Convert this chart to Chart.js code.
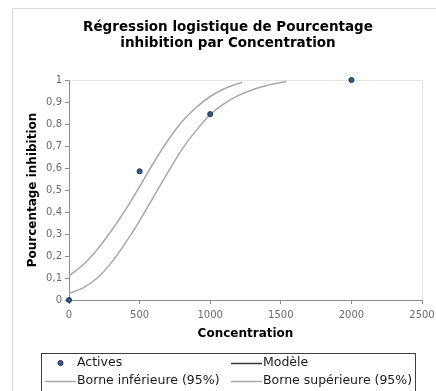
<!DOCTYPE html>
<html lang="fr">
<head>
<meta charset="utf-8">
<title>Régression logistique</title>
<script src="https://cdn.jsdelivr.net/npm/chart.js@4.4.1/dist/chart.umd.min.js"></script>
<style>
  html, body { margin: 0; padding: 0; background: #fff; }
  #wrap { width: 436px; height: 391px; position: relative; }
</style>
</head>
<body>
<div id="wrap"><canvas id="chart"></canvas></div>
<script>
const titleLines = ['Régression logistique de Pourcentage', 'inhibition par Concentration']
const xTitle = 'Concentration'
const yTitle = 'Pourcentage inhibition'
const xTicks = [0, 500, 1000, 1500, 2000, 2500]
const yTicks = [0, 0.1, 0.2, 0.3, 0.4, 0.5, 0.6, 0.7, 0.8, 0.9, 1]
const yTickLabels = ['0', '0,1', '0,2', '0,3', '0,4', '0,5', '0,6', '0,7', '0,8', '0,9', '1']

// observations
const activesX = [0, 500, 1000, 2000]
const activesY = [0, 0.585, 0.845, 1]

// fitted model (not plotted, legend entry only)
const modelX = []
const modelY = []

// 95% bounds
const lowerX = [0, 100, 200, 300, 400, 500, 600, 700, 800, 900, 1000, 1100, 1200, 1300, 1400, 1540]
const lowerY = [0.03, 0.055, 0.1, 0.17, 0.26, 0.36, 0.47, 0.58, 0.685, 0.77, 0.843, 0.893, 0.93, 0.956, 0.975, 0.993]
const upperX = [0, 100, 200, 300, 400, 500, 600, 700, 800, 900, 1000, 1100, 1225]
const upperY = [0.11, 0.16, 0.23, 0.315, 0.41, 0.515, 0.625, 0.725, 0.81, 0.875, 0.925, 0.96, 0.99]

const zip = (xs, ys) => xs.map((x, i) => ({ x, y: ys[i] }))

const FONT = 'DejaVu Sans'

const frame = {
  id: 'frame',
  beforeDraw(chart) {
    const { ctx, width, height } = chart
    ctx.save()
    ctx.fillStyle = '#fff'
    ctx.fillRect(0, 0, width, height)
    ctx.strokeStyle = '#d9d9d9'
    ctx.lineWidth = 1
    ctx.beginPath()
    ctx.moveTo(12.5, height)
    ctx.lineTo(12.5, 8.5)
    ctx.lineTo(width, 8.5)
    ctx.stroke()

    ctx.fillStyle = '#000'
    ctx.font = `bold 13.5px "${FONT}"`
    ctx.textAlign = 'center'
    ctx.textBaseline = 'middle'
    titleLines.forEach((t, i) => ctx.fillText(t, 228, 27 + i * 16))
    ctx.restore()
  },
  beforeDatasetsDraw(chart) {
    const { ctx, chartArea: a } = chart
    ctx.save()
    ctx.strokeStyle = '#e3e3e3'
    ctx.lineWidth = 1
    ctx.beginPath()
    ctx.moveTo(Math.round(a.left) + 0.5, Math.round(a.top) + 0.5)
    ctx.lineTo(Math.round(a.right) + 0.5, Math.round(a.top) + 0.5)
    ctx.lineTo(Math.round(a.right) + 0.5, Math.round(a.bottom))
    ctx.stroke()
    ctx.restore()
  }
}

const boxedLegend = {
  id: 'boxedLegend',
  afterDraw(chart) {
    const { ctx } = chart
    const slots = [[45, 363], [231, 363], [45, 381], [231, 381]]
    ctx.save()
    ctx.strokeStyle = '#404040'
    ctx.lineWidth = 1
    ctx.strokeRect(41.5, 353.5, 374, 60)
    ctx.font = `12.5px "${FONT}"`
    ctx.textBaseline = 'middle'
    chart.data.datasets.forEach((ds, i) => {
      const [x, y] = slots[i]
      if (ds.showLine === false) {
        ctx.beginPath()
        ctx.arc(x + 15.5, y, ds.pointRadius, 0, Math.PI * 2)
        ctx.fillStyle = ds.backgroundColor
        ctx.fill()
        ctx.strokeStyle = ds.borderColor
        ctx.lineWidth = ds.borderWidth
        ctx.stroke()
      } else {
        ctx.beginPath()
        ctx.moveTo(x, y + 0.5)
        ctx.lineTo(x + 31, y + 0.5)
        ctx.strokeStyle = ds.borderColor
        ctx.lineWidth = ds.borderWidth
        ctx.stroke()
      }
      ctx.fillStyle = '#1a1a1a'
      ctx.textAlign = 'left'
      ctx.fillText(ds.label, x + 32, y)
    })
    ctx.restore()
  }
}

const curve = (label, data, color, width) => ({
  label,
  data,
  showLine: true,
  borderColor: color,
  borderWidth: width,
  pointRadius: 0,
  pointHoverRadius: 0,
  cubicInterpolationMode: 'monotone',
  fill: false
})

new Chart(document.getElementById('chart'), {
  type: 'scatter',
  data: {
    datasets: [
      {
        label: 'Actives',
        data: zip(activesX, activesY),
        showLine: false,
        pointRadius: 2.5,
        backgroundColor: '#2f6096',
        borderColor: '#1c2e44',
        borderWidth: 1,
        clip: false
      },
      curve('Modèle', zip(modelX, modelY), '#333', 1.5),
      curve('Borne inférieure (95%)', zip(lowerX, lowerY), '#a8a8a8', 1.5),
      curve('Borne supérieure (95%)', zip(upperX, upperY), '#a8a8a8', 1.5)
    ]
  },
  plugins: [frame, boxedLegend],
  options: {
    responsive: true,
    maintainAspectRatio: false,
    animation: false,
    layout: { padding: { left: 0, right: 14, top: 80, bottom: 46 } },
    plugins: {
      legend: { display: false },
      title: { display: false },
      tooltip: { enabled: false }
    },
    scales: {
      x: {
        type: 'linear',
        min: 0,
        max: 2500,
        afterBuildTicks: s => { s.ticks = xTicks.map(v => ({ value: v })) },
        afterFit: s => {
          s.height = 45
          s.paddingLeft = 0
          s.paddingRight = 0
        },
        ticks: {
          callback: v => String(v),
          font: { size: 10, family: FONT },
          color: '#6b6b6b',
          padding: 5,
          maxRotation: 0
        },
        grid: { drawOnChartArea: false, tickLength: 4, color: '#8c8c8c' },
        border: { color: '#8c8c8c' },
        title: {
          display: true,
          text: xTitle,
          font: { size: 12, family: FONT, weight: 'bold', lineHeight: 1.2 },
          color: '#000',
          padding: { top: 0, bottom: 4 }
        }
      },
      y: {
        min: 0,
        max: 1,
        afterBuildTicks: s => { s.ticks = yTicks.map(v => ({ value: v })) },
        afterFit: s => {
          s.width = 69
          s.paddingTop = 0
          s.paddingBottom = 0
        },
        ticks: {
          callback: (v, i) => yTickLabels[i],
          font: { size: 10, family: FONT },
          color: '#6b6b6b',
          padding: 3
        },
        grid: { drawOnChartArea: false, tickLength: 4, color: '#8c8c8c' },
        border: { color: '#8c8c8c' },
        title: {
          display: true,
          text: yTitle,
          font: { size: 12, family: FONT, weight: 'bold', lineHeight: 1.2 },
          color: '#000',
          padding: { top: 26, bottom: 0 }
        }
      }
    }
  }
})
</script>
</body>
</html>
